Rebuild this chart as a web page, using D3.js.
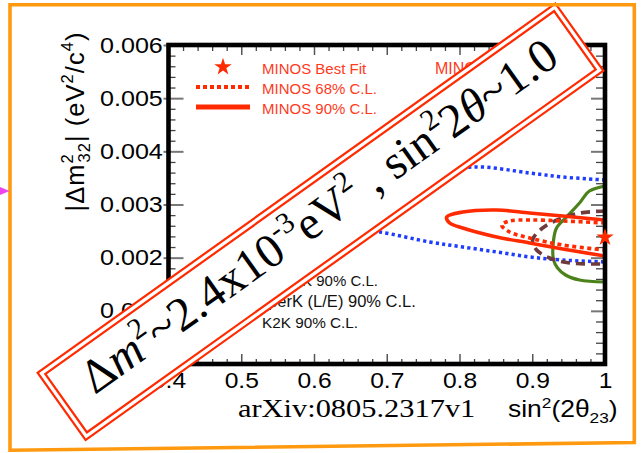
<!DOCTYPE html>
<html>
<head>
<meta charset="utf-8">
<script src="https://cdn.jsdelivr.net/npm/d3@7"></script>
<style>
  html, body { margin: 0; padding: 0; background: #fff; }
  svg { display: block; }
  .sans { font-family: "Liberation Sans", Arial, Helvetica, sans-serif; }
  .serif { font-family: "Liberation Serif", "Times New Roman", serif; }
</style>
</head>
<body>
<svg id="chart" width="641" height="453"></svg>
<script>
// Axis ticks
const xTickValues = [0.4, 0.5, 0.6, 0.7, 0.8, 0.9, 1.0];
const xTickLabels = ["0.4", "0.5", "0.6", "0.7", "0.8", "0.9", "1"];
const yTickValues = [0, 0.001, 0.002, 0.003, 0.004, 0.005, 0.006];
const yTickLabels = ["", "0.001", "0.002", "0.003", "0.004", "0.005", "0.006"];

// Allowed-region contours: [sin^2(2theta23), |dm^2_32| (eV^2)]
const minos90 = [
  [1.000, 0.002708], [0.9417, 0.002784], [0.8964, 0.002840], [0.8511, 0.002897],
  [0.8044, 0.002859], [0.7824, 0.002765], [0.7865, 0.002652], [0.8044, 0.002558],
  [0.8511, 0.002389], [0.8964, 0.002276], [0.9417, 0.002163], [1.000, 0.002031]
];
const minos68 = [
  [1.000, 0.002652], [0.9417, 0.002690], [0.8964, 0.002708], [0.8689, 0.002690],
  [0.8579, 0.002614], [0.8689, 0.002483], [0.8964, 0.002370], [0.9417, 0.002238],
  [1.000, 0.002144]
];
const k2k90 = [
  [1.000, 0.003461], [0.9417, 0.003517], [0.8964, 0.003592], [0.8181, 0.003705],
  [0.7454, 0.003498], [0.6767, 0.003179], [0.6286, 0.002802], [0.6424, 0.002558],
  [0.6904, 0.002483], [0.7591, 0.002295], [0.8044, 0.002201], [0.8511, 0.002107],
  [0.8964, 0.002013], [0.9417, 0.001956], [1.000, 0.001918]
];
const superkLE90 = [
  [1.000, 0.002878], [0.9657, 0.002840], [0.9375, 0.002727], [0.9142, 0.002558],
  [0.9005, 0.002332], [0.9060, 0.002144], [0.9238, 0.001994], [0.9513, 0.001900],
  [1.000, 0.001881]
];
const superk90 = [
  [1.000, 0.003348], [0.9786, 0.003254], [0.9650, 0.003028], [0.9471, 0.002765],
  [0.9334, 0.002558], [0.9293, 0.002332], [0.9293, 0.001956], [0.9348, 0.001806],
  [0.9458, 0.001674], [0.9650, 0.001580], [1.000, 0.001542]
];
const minosBestFit = [1.0, 0.00238];

// Legend entries
const minosLegend = ["MINOS Best Fit", "MINOS 68% C.L.", "MINOS 90% C.L."];
const otherLegend = ["SuperK 90% C.L.", "SuperK (L/E) 90% C.L.", "K2K 90% C.L."];

const RED = "#ff2a00", RED_TXT = "#ff3a1c", BLUE = "#1e3cff", BROWN = "#6e3a3c", GREEN = "#4c821a";

const svg = d3.select("#chart");

const pLeft = 168.5, pRight = 605, pTop = 45, pBottom = 364;
const x = d3.scaleLinear().domain([0.4, 1.0]).range([pLeft, pRight]);
const y = d3.scaleLinear().domain([0, 0.006]).range([pBottom, pTop]);

svg.append("defs").append("clipPath").attr("id", "plotClip")
  .append("rect").attr("x", pLeft).attr("y", pTop).attr("width", pRight - pLeft).attr("height", pBottom - pTop);

// Minor tick positions
const xMinor = d3.range(0, 31).map(i => 0.4 + i * 0.02).filter(v => !xTickValues.some(t => Math.abs(t - v) < 1e-9));
const yMinor = d3.range(0, 31).map(i => i * 0.0002).filter(v => !yTickValues.some(t => Math.abs(t - v) < 1e-12));

function styleTicks(g, color, width) {
  g.select(".domain").remove();
  g.selectAll(".tick line").attr("stroke", color).attr("stroke-width", width);
}

// Left axis: major ticks cross the frame, labels to the left
const gL = svg.append("g").attr("transform", `translate(${pLeft},0)`)
  .call(d3.axisLeft(y).tickValues(yTickValues).tickSizeInner(-15).tickSizeOuter(0).tickPadding(5)
    .tickFormat((d, i) => yTickLabels[i]));
styleTicks(gL, "#777", 2);
gL.selectAll(".tick line").attr("x1", -5);
gL.selectAll(".tick text").attr("class", "sans").attr("font-size", 22).attr("fill", "#000")
  .attr("transform", "scale(1.14,1)");
const gLm = svg.append("g").attr("transform", `translate(${pLeft},0)`)
  .call(d3.axisLeft(y).tickValues(yMinor).tickSizeInner(-7).tickSizeOuter(0).tickFormat(""));
styleTicks(gLm, "#444", 1.3);

// Right axis: ticks pointing inward
const gR = svg.append("g").attr("transform", `translate(${pRight},0)`)
  .call(d3.axisRight(y).tickValues(yTickValues).tickSizeInner(-14).tickSizeOuter(0).tickFormat(""));
styleTicks(gR, "#777", 2);
const gRm = svg.append("g").attr("transform", `translate(${pRight},0)`)
  .call(d3.axisRight(y).tickValues(yMinor).tickSizeInner(-9).tickSizeOuter(0).tickFormat(""));
styleTicks(gRm, "#444", 1.3);

// Bottom axis with labels
const gB = svg.append("g").attr("transform", `translate(0,${pBottom})`)
  .call(d3.axisBottom(x).tickValues(xTickValues).tickSizeInner(-10).tickSizeOuter(0).tickPadding(8.5)
    .tickFormat((d, i) => xTickLabels[i]));
styleTicks(gB, "#555", 1.5);
gB.selectAll(".tick text").attr("class", "sans").attr("font-size", 22).attr("fill", "#000")
  .attr("transform", "scale(1.12,1)");
const gBm = svg.append("g").attr("transform", `translate(0,${pBottom})`)
  .call(d3.axisBottom(x).tickValues(xMinor).tickSizeInner(-5).tickSizeOuter(0).tickFormat(""));
styleTicks(gBm, "#444", 1.3);

// Top axis ticks
const gT = svg.append("g").attr("transform", `translate(0,${pTop})`)
  .call(d3.axisTop(x).tickValues(xTickValues).tickSizeInner(-10).tickSizeOuter(0).tickFormat(""));
styleTicks(gT, "#555", 1.5);
const gTm = svg.append("g").attr("transform", `translate(0,${pTop})`)
  .call(d3.axisTop(x).tickValues(xMinor).tickSizeInner(-6).tickSizeOuter(0).tickFormat(""));
styleTicks(gTm, "#444", 1.3);

// Contours
const line = d3.line().x(d => x(d[0])).y(d => y(d[1])).curve(d3.curveCatmullRom.alpha(0.5));
const curves = svg.append("g").attr("clip-path", "url(#plotClip)").attr("fill", "none");
curves.append("path").attr("d", line(k2k90)).attr("stroke", BLUE).attr("stroke-width", 3.5).attr("stroke-dasharray", "3.2,3.2");
curves.append("path").attr("d", line(superk90)).attr("stroke", GREEN).attr("stroke-width", 3.2);
curves.append("path").attr("d", line(superkLE90)).attr("stroke", BROWN).attr("stroke-width", 3.6).attr("stroke-dasharray", "9,6");
curves.append("path").attr("d", line(minos90)).attr("stroke", RED).attr("stroke-width", 3.6);
curves.append("path").attr("d", line(minos68)).attr("stroke", RED).attr("stroke-width", 3.6).attr("stroke-dasharray", "4,3.5");

// Frame of the plot
svg.append("rect").attr("x", pLeft).attr("y", pTop).attr("width", pRight - pLeft).attr("height", pBottom - pTop)
  .attr("fill", "none").attr("stroke", "#000").attr("stroke-width", 4.6);

// Best-fit marker
const star = d3.symbol().type(d3.symbolStar).size(95);
svg.append("path").attr("d", star())
  .attr("transform", `translate(${x(minosBestFit[0])},${y(minosBestFit[1])})`).attr("fill", RED);

// MINOS legend
const legM = svg.append("g").attr("class", "sans");
legM.append("path").attr("d", star()).attr("transform", "translate(223,67)").attr("fill", RED);
legM.append("line").attr("x1", 196).attr("x2", 250).attr("y1", 87).attr("y2", 87)
  .attr("stroke", RED).attr("stroke-width", 4).attr("stroke-dasharray", "4,3");
legM.append("line").attr("x1", 196).attr("x2", 250).attr("y1", 107).attr("y2", 107)
  .attr("stroke", RED).attr("stroke-width", 5);
legM.selectAll("text.entry").data(minosLegend).join("text").attr("class", "entry")
  .attr("x", 262).attr("y", (d, i) => 74 + i * 20).attr("font-size", 15).attr("fill", RED_TXT).text(d => d);
legM.append("text").attr("x", 435).attr("y", 74).attr("font-size", 16).attr("fill", RED_TXT).text("MINOS");

// Other experiments legend
const legO = svg.append("g").attr("class", "sans");
const legSamples = [
  { stroke: GREEN, dash: null },
  { stroke: BROWN, dash: "9,6" },
  { stroke: BLUE, dash: "3.2,3.2" }
];
legSamples.forEach((s, i) => {
  legO.append("line").attr("x1", 198).attr("x2", 242).attr("y1", 281 + i * 21).attr("y2", 281 + i * 21)
    .attr("stroke", s.stroke).attr("stroke-width", 3.5).attr("stroke-dasharray", s.dash);
});
const legX = [262, 248, 262], legSize = [15, 16.5, 15.3];
legO.selectAll("text").data(otherLegend).join("text")
  .attr("x", (d, i) => legX[i]).attr("y", (d, i) => 286 + i * 21)
  .attr("font-size", (d, i) => legSize[i]).attr("fill", "#111").text(d => d);

// Axis titles
const yTitle = svg.append("text").attr("class", "sans").attr("font-size", 25.5).attr("fill", "#000")
  .attr("text-anchor", "middle")
  .attr("transform", "translate(84,122) rotate(-90)");
yTitle.append("tspan").text("|\u0394m");
yTitle.append("tspan").attr("font-size", 16.5).attr("dy", -11).text("2");
yTitle.append("tspan").attr("font-size", 16.5).attr("dx", -9.2).attr("dy", 17).text("32");
yTitle.append("tspan").attr("dy", -6).text("| (eV");
yTitle.append("tspan").attr("font-size", 16.5).attr("dy", -11).text("2");
yTitle.append("tspan").attr("dy", 11).text("/c");
yTitle.append("tspan").attr("font-size", 16.5).attr("dy", -11).text("4");
yTitle.append("tspan").attr("dy", 11).text(")");
yTitle.attr("textLength", 179).attr("lengthAdjust", "spacing");

const xTitle = svg.append("text").attr("class", "sans").attr("font-size", 23).attr("fill", "#000")
  .attr("transform", "translate(508,417) scale(1.15,1)");
xTitle.append("tspan").text("sin");
xTitle.append("tspan").attr("font-size", 15).attr("dy", -9).text("2");
xTitle.append("tspan").attr("dy", 9).text("(2\u03b8");
xTitle.append("tspan").attr("font-size", 15).attr("dy", 6).text("23");
xTitle.append("tspan").attr("dy", -6).text(")");

svg.append("text").attr("class", "serif").attr("font-size", 26).attr("fill", "#000")
  .attr("transform", "translate(238,417) scale(1.17,1)").text("arXiv:0805.2317v1");

// Banner with the headline numbers
const banner = svg.append("g").attr("transform", "translate(320.5,221.75) rotate(-35.5)");
banner.append("rect").attr("x", -318).attr("y", -41.3).attr("width", 636).attr("height", 82.6)
  .attr("fill", "#fff").attr("stroke", "#ff2a00").attr("stroke-width", 2.2);
banner.append("rect").attr("x", -312.5).attr("y", -35.8).attr("width", 625).attr("height", 71.6)
  .attr("fill", "none").attr("stroke", "#ff2a00").attr("stroke-width", 2.2);

// Headline text; its size is chosen so that it spans the banner
const headline = [
  { t: "\u0394" }, { t: "m", it: true }, { t: "2", sup: true }, { t: "~2.4x10" },
  { t: "-3", sup: true }, { t: "eV" }, { t: "2", sup: true }, { t: " , sin" },
  { t: "2", sup: true }, { t: "2" }, { t: "\u03b8", it: true }, { t: "~1.0" }
];
function drawHeadline(fs) {
  const t = banner.append("text").attr("class", "serif").attr("font-size", fs).attr("fill", "#000")
    .attr("text-anchor", "middle").attr("x", 2).attr("y", 10);
  let raised = false;
  headline.forEach(p => {
    const s = t.append("tspan").text(p.t);
    if (p.it) s.attr("font-style", "italic");
    if (p.sup) { s.attr("font-size", fs * 0.62).attr("dy", -fs * 0.42); raised = true; }
    else if (raised) { s.attr("dy", fs * 0.42); raised = false; }
  });
  return t;
}
let bt = drawHeadline(50);
const natural = bt.node().getComputedTextLength();
bt.remove();
bt = drawHeadline(50 * 573 / natural);

// Outer frame and pointer
svg.append("path").attr("d", "M10,4.7 L634.3,4.7 L634.3,442.5 L10,450.3 Z")
  .attr("fill", "none").attr("stroke", "#ff9a10").attr("stroke-width", 3.6);
svg.append("path").attr("d", "M0,187 L9.5,191 L0,195 Z").attr("fill", "#ee44ee");
</script>
</body>
</html>
